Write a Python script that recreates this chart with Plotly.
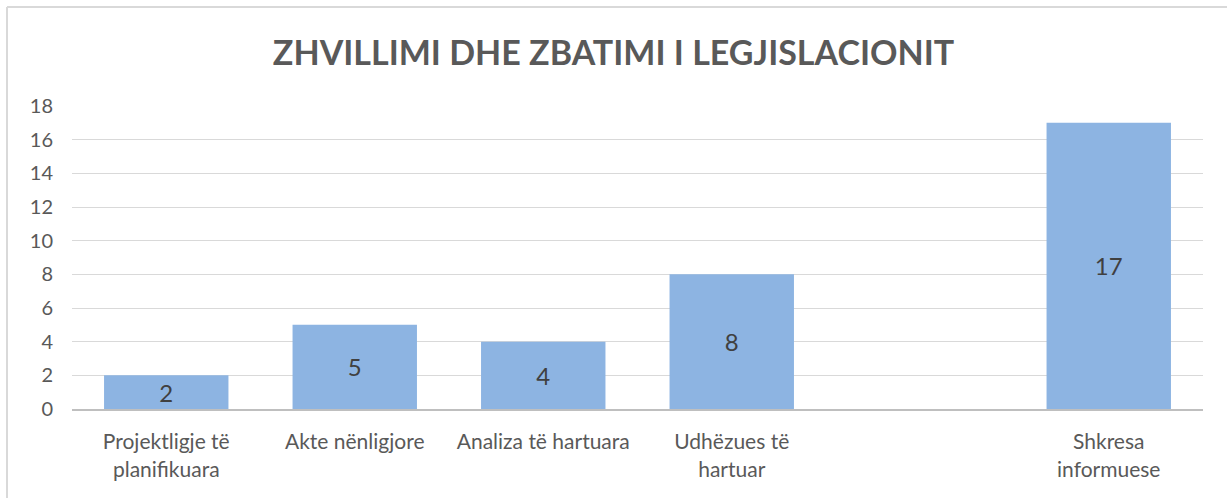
import plotly.graph_objects as go

categories = ["Projektligje të<br>planifikuara", "Akte nënligjore", "Analiza të hartuara",
              "Udhëzues të<br>hartuar", " ", "Shkresa<br>informuese"]
values = [2, 5, 4, 8, None, 17]
labels = ["2", "5", "4", "8", "", "17"]
y_ticks = [0, 2, 4, 6, 8, 10, 12, 14, 16, 18]

W, H = 1227, 498
ml, mr, mt, mb = 72, 24, 106, 89
pw = W - ml - mr
ph = H - mt - mb

fig = go.Figure(go.Bar(
    x=categories, y=values, text=labels,
    textposition="inside", insidetextanchor="middle",
    textangle=0, constraintext="none",
    textfont=dict(family="Lato", size=24, color="#404040"),
    marker=dict(color="#8db4e2", line=dict(width=0)),
    cliponaxis=False,
))

fig.update_layout(
    width=W, height=H,
    margin=dict(l=ml, r=mr, t=mt, b=mb),
    paper_bgcolor="white", plot_bgcolor="white",
    bargap=0.34,
    showlegend=False,
    uniformtext=dict(mode=False),
    title=dict(text="<b>ZHVILLIMI DHE ZBATIMI I LEGJISLACIONIT</b>",
               x=0.5, xanchor="center", y=1 - 53 / H, yanchor="middle",
               font=dict(family="Lato", size=34, color="#595959")),
    font=dict(family="Lato", color="#595959"),
    xaxis=dict(showline=True, linecolor="#bfbfbf", linewidth=2,
               tickfont=dict(size=21, color="#595959"), ticks="",
               ticklabelstandoff=13, showgrid=False),
    yaxis=dict(range=[0, 18], tickvals=y_ticks, showgrid=True, gridcolor="#d9d9d9",
               gridwidth=1, zeroline=False, showline=False,
               tickfont=dict(size=20, color="#595959"), ticks="",
               ticklabelstandoff=18),
    shapes=[
        dict(type="line", xref="paper", yref="paper",
             x0=(7 - ml) / pw, x1=(W + 10 - ml) / pw,
             y0=(H - mb - 7) / ph, y1=(H - mb - 7) / ph,
             line=dict(color="#d9d9d9", width=2)),
        dict(type="line", xref="paper", yref="paper",
             x0=(7 - ml) / pw, x1=(7 - ml) / pw,
             y0=(H - mb - 7) / ph, y1=-(mb + 10) / ph,
             line=dict(color="#d9d9d9", width=2)),
    ],
)

fig.write_html("out.html", config={"displayModeBar": False},
               post_script="document.body.style.margin='0';")
